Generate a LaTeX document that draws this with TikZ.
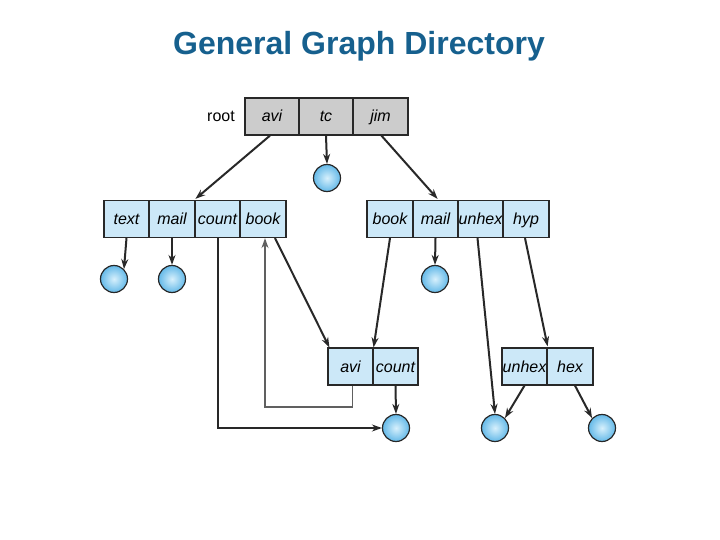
\documentclass[tikz,border=0pt]{standalone}
\usepackage{fontspec}
\setmainfont{Liberation Sans}
\usetikzlibrary{arrows.meta,calc}
\definecolor{cellblue}{RGB}{204,232,248}
\definecolor{cellgray}{RGB}{204,204,204}
\definecolor{titleblue}{RGB}{22,96,142}
\definecolor{linegray}{RGB}{40,40,40}
\definecolor{ballout}{RGB}{100,185,232}
\definecolor{ballin}{RGB}{215,240,252}
\tikzset{
  cell/.style={draw=linegray, line width=1.2pt, minimum height=37pt, inner sep=0pt, text height=12pt, text depth=1pt, font=\fontsize{16}{16}\selectfont\itshape},
  bluecell/.style={cell, fill=cellblue},
  graycell/.style={cell, fill=cellgray},
  file/.style={draw=linegray, line width=1.2pt, minimum size=27pt, inner sep=0pt, shape=circle, inner color=ballin, outer color=ballout},
  tip/.style={-{Stealth[length=10pt,width=7pt]}},
  link/.style={draw=linegray, line width=2pt, tip},
  backlink/.style={draw=gray!75!black, line width=1.6pt, tip}
}
\begin{document}
\begin{tikzpicture}[x=1pt,y=-1pt]
\useasboundingbox (0,0) rectangle (720,540);
\node[font=\fontsize{32}{32}\selectfont\bfseries, text=titleblue] (title) at (359,46) {General Graph Directory};
% root
\node[font=\fontsize{16}{16}\selectfont, text height=12pt, text depth=1pt] (rootlbl) at (221,116.5) {root};
\node[graycell, minimum width=54pt] (ravi) at (272,116.5) {avi};
\node[graycell, minimum width=54pt] (rtc) at (326,116.5) {tc};
\node[graycell, minimum width=55pt] (rjim) at (380.5,116.5) {jim};
% left dir
\node[bluecell, minimum width=45pt] (ltext) at (126.5,219) {text};
\node[bluecell, minimum width=46pt] (lmail) at (172,219) {mail};
\node[bluecell, minimum width=45pt] (lcount) at (217.5,219) {count};
\node[bluecell, minimum width=46pt] (lbook) at (263,219) {book};
% right dir
\node[bluecell, minimum width=46pt] (rbook) at (390,219) {book};
\node[bluecell, minimum width=45pt] (rmail) at (435.5,219) {mail};
\node[bluecell, minimum width=45pt] (runhex) at (480.5,219) {unhex};
\node[bluecell, minimum width=46pt] (rhyp) at (526,219) {hyp};
% middle dir
\node[bluecell, minimum width=45pt] (mavi) at (350.5,366.5) {avi};
\node[bluecell, minimum width=45pt] (mcount) at (395.5,366.5) {count};
% sub dir
\node[bluecell, minimum width=45pt] (sunhex) at (524.5,366.5) {unhex};
\node[bluecell, minimum width=46pt] (shex) at (570,366.5) {hex};
% files
\node[file] (ftc) at (327,178) {};
\node[file] (ftext) at (114,279) {};
\node[file] (fmail) at (172,279) {};
\node[file] (frmail) at (435,279) {};
\node[file] (fcount) at (396,428) {};
\node[file] (funhex) at (495,428) {};
\node[file] (fhex) at (602,428) {};
% arrows
\draw[link] ($(ravi.south)+(-2,0)$) -- ($(lbook.north west)+(-44,-1)$);
\draw[link] (rtc.south) -- (ftc.north);
\draw[link] ($(rjim.south west)+(29,0)$) -- ($(rbook.north east)+(24,-1)$);
\draw[link] (ltext.south) -- (ftext.north east);
\draw[link] (lmail.south) -- (fmail.north);
\draw[link] (rmail.south) -- (frmail.north);
\draw[link] ($(lbook.south)+(12,0)$) -- ($(mavi.north west)+(2,0)$);
\draw[link] (rbook.south) -- (mavi.north east);
\draw[link] (mcount.south) -- (fcount.north);
\draw[link] (lcount.south) |- (fcount.west);
\draw[backlink] ($(mavi.south)+(2,0)$) |- (265,407) -- ($(lbook.south)+(2,0)$);
\draw[link] ($(rhyp.south)-(1,0)$) -- ($(sunhex.north east)+(0,-1)$);
\draw[link] ($(runhex.south)-(3,0)$) -- (funhex.north);
\draw[link] (sunhex.south) -- (funhex.north east);
\draw[link] ($(shex.south)+(5,0)$) -- (fhex.north west);
\end{tikzpicture}
\end{document}
